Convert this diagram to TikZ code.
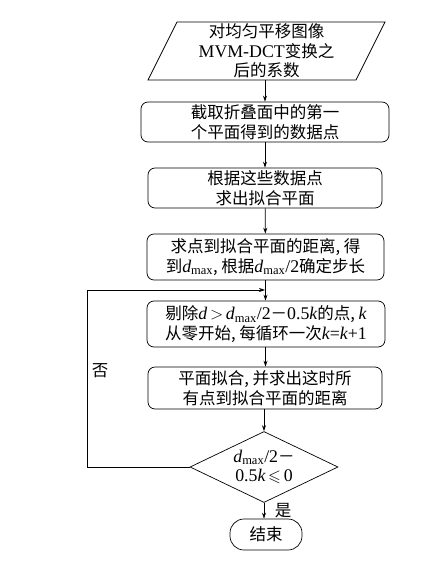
\documentclass[tikz,border=0pt]{standalone}
\usepackage{amssymb}
\usepackage{fontspec}
\setmainfont{Noto Sans CJK SC}
\newfontfamily\lat[Scale=1.08]{Liberation Serif}
\usetikzlibrary{shapes.geometric,arrows.meta}
\newcommand\dmx{{\lat\itshape d}\textsubscript{\lat max}}
\newcommand\itl[1]{{\lat\itshape #1}}
\begin{document}
\begin{tikzpicture}[x=1pt,y=-1pt,
  every node/.style={font=\fontsize{16.5}{19.5}\selectfont, align=center, inner sep=0pt},
  box/.style={draw, rounded corners=7pt, line width=0.7pt},
  flow/.style={-{Stealth[length=6pt,width=4pt]}, line width=0.7pt},
  lbl/.style={font=\fontsize{16.5}{19.5}\selectfont}]
\useasboundingbox (0,0) rectangle (443,561);
% parallelogram
\node (p) at (266.5,51) {对均匀平移图像\\{\lat MVM-DCT}变换之\\后的系数};
\coordinate (ptl) at (177,22);
\coordinate (ptr) at (385,22);
\coordinate (pbr) at (356,80);
\coordinate (pbl) at (148,80);
\draw[line width=0.7pt] (ptl) -- (ptr) -- (pbr) -- (pbl) -- cycle;
\coordinate (pb) at (265,80);
% boxes
\node[box, minimum width=248pt, minimum height=40pt] (b2) at (265,122) {截取折叠面中的第一\\个平面得到的数据点};
\node[box, minimum width=234pt, minimum height=40pt] (b3) at (265,188) {根据这些数据点\\求出拟合平面};
\node[box, minimum width=237pt, minimum height=46pt] (b4) at (265.5,257) {求点到拟合平面的距离, 得\\到\dmx, 根据\dmx{\lat/2}确定步长};
\node[box, minimum width=238pt, minimum height=46pt] (b5) at (266,324) {剔除\itl{d}\,$>$\,\dmx{\lat/2}－{\lat 0.5}\itl{k}的点, \itl{k}\\从零开始, 每循环一次\itl{k}{\lat=}\itl{k}{\lat+1}};
\node[box, minimum width=234pt, minimum height=42pt] (b6) at (265,388) {平面拟合, 并求出这时所\\有点到拟合平面的距离};
\node[draw, diamond, aspect=2.08, minimum width=148pt, minimum height=71pt, line width=0.7pt] (d) at (264,467) {};
\node (dt) at (264,467) {\dmx{\lat/2}－\\{\lat 0.5}\itl{k}\,$\leqslant$\,{\lat 0}};
\node[draw, rounded corners=14pt, minimum width=72pt, minimum height=31pt, line width=0.7pt] (e) at (266,534.5) {结束};
% connectors
\draw[flow] (pb) -- (b2.north -| pb);
\draw[flow] (b2) -- (b3);
\draw[flow] (b3) -- (b4);
\draw[flow] (b4.south -| b4.north) -- (b5.north -| b4.north);
\draw[flow] (b5.south -| b4.north) -- (b6.north -| b4.north);
\draw[flow] (b6.south -| d.north) -- (d.north);
\draw[flow] (d.south) -- (e.north -| d.south);
\coordinate (lc) at (87,467);
\coordinate (lt) at (87,290);
\coordinate (lm) at (265,290);
\draw[flow] (d.west) -- (lc) -- (lt) -- (lm);
\node[lbl] (no) at (100,371) {否};
\node[lbl] (yes) at (283,511) {是};
\end{tikzpicture}
\end{document}
